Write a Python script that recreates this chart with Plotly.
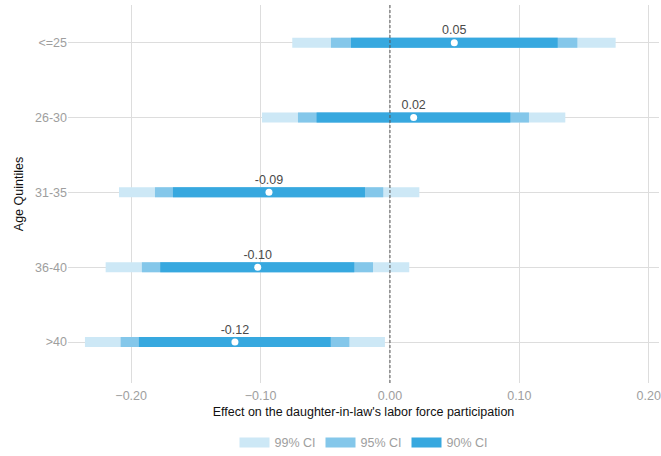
import plotly.graph_objects as go

# Age groups, top to bottom
groups = ["<=25", "26-30", "31-35", "36-40", ">40"]

# Point estimates
estimate = [0.0497, 0.0183, -0.0935, -0.1022, -0.1198]

# Confidence interval bounds
ci99_low = [-0.0755, -0.0989, -0.2094, -0.2197, -0.2357]
ci99_high = [0.1744, 0.1355, 0.0227, 0.0149, -0.0039]
ci95_low = [-0.0456, -0.0711, -0.1816, -0.1917, -0.2081]
ci95_high = [0.1448, 0.1074, -0.0052, -0.0131, -0.0314]
ci90_low = [-0.0301, -0.0567, -0.1677, -0.1775, -0.1940]
ci90_high = [0.1296, 0.0930, -0.0193, -0.0276, -0.0458]

levels = [
    ("99% CI", ci99_low, ci99_high, "#cde8f6"),
    ("95% CI", ci95_low, ci95_high, "#84c7ea"),
    ("90% CI", ci90_low, ci90_high, "#37a8df"),
]

FONT = "Liberation Sans, Arial, sans-serif"
GRAY = "#9e9e9e"

fig = go.Figure()

for name, lo, hi, color in levels:
    xs, ys = [], []
    for g, a, b in zip(groups, lo, hi):
        xs += [a, b, None]
        ys += [g, g, None]
    fig.add_trace(go.Scatter(
        x=xs, y=ys, mode="lines", name=name,
        line=dict(color=color, width=10),
        hoverinfo="skip",
    ))

fig.add_trace(go.Scatter(
    x=estimate, y=groups, mode="markers+text",
    marker=dict(color="white", size=7),
    texttemplate="%{x:.2f}", textposition="top center",
    textfont=dict(family=FONT, size=12.5, color="#4a4a4a"),
    showlegend=False,
))

fig.add_shape(
    type="line", xref="x", yref="paper", x0=0, x1=0, y0=0, y1=1,
    line=dict(color="#555555", width=1, dash="3px,2px"),
)

fig.update_layout(
    width=661, height=456,
    margin=dict(l=68, r=2, t=5, b=73, autoexpand=False),
    paper_bgcolor="white", plot_bgcolor="white",
    font=dict(family=FONT, size=12, color=GRAY),
    showlegend=True,
    legend=dict(
        orientation="h", x=0.5, xanchor="center",
        yref="container", y=0.029, yanchor="middle",
        font=dict(family=FONT, size=12.5, color=GRAY),
        itemwidth=30,
    ),
    xaxis=dict(
        range=[-0.2488, 0.2079],
        tick0=0, dtick=0.1, tickformat=".2f",
        showgrid=True, gridcolor="#dddddd", gridwidth=1,
        zeroline=False, showline=False, ticks="",
        ticklabelstandoff=3, automargin=False,
        tickfont=dict(color=GRAY, size=12.5),
        title=dict(
            text="Effect on the daughter-in-law's labor force participation",
            font=dict(color="#111111", size=12.5), standoff=5,
        ),
    ),
    yaxis=dict(
        type="category", categoryorder="array", categoryarray=groups,
        range=[4.547, -0.503], automargin=False,
        showgrid=True, gridcolor="#dddddd", gridwidth=1,
        zeroline=False, showline=False, ticks="",
        tickfont=dict(color=GRAY, size=12.5),
        title=dict(text="Age Quintiles", font=dict(color="#111111", size=12.5), standoff=8),
    ),
)

fig.write_html("out.html")
